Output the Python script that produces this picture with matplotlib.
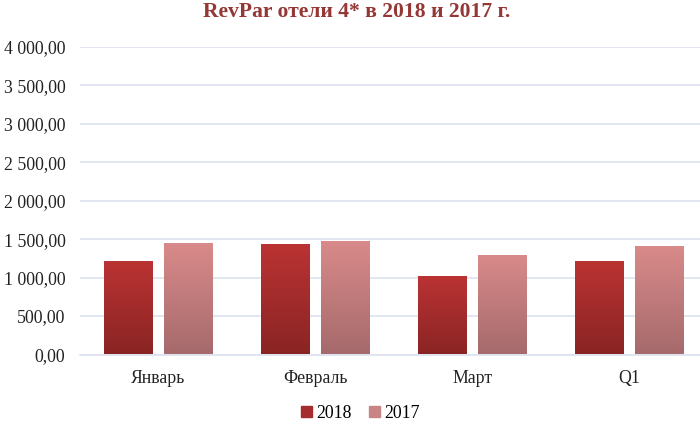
import numpy as np
import matplotlib
matplotlib.use('Agg')
import matplotlib.pyplot as plt
from matplotlib.colors import LinearSegmentedColormap
from matplotlib.ticker import FuncFormatter, MultipleLocator

# data
categories = ['Январь', 'Февраль', 'Март', 'Q1']
revpar_2018 = [1205, 1418, 1008, 1198]
revpar_2017 = [1440, 1468, 1285, 1398]

plt.rcParams['font.family'] = ['Liberation Serif', 'DejaVu Serif']

fig = plt.figure(figsize=(7, 4.28), dpi=100)
ax = fig.add_axes([80 / 700, 73.5 / 428, 620 / 700, 307.5 / 428])

x = np.arange(len(categories))
w = 0.306
off = 0.191

cmap18 = LinearSegmentedColormap.from_list('c18', ['#8a2424', '#bb3333'])
cmap17 = LinearSegmentedColormap.from_list('c17', ['#a66a6c', '#d98a8a'])

b18 = ax.bar(x - off, revpar_2018, w, color='#a52d2d', label='2018', zorder=2)
b17 = ax.bar(x + off, revpar_2017, w, color='#c47c7c', label='2017', zorder=2)

# vertical gradient fill for each bar
grad = np.linspace(0, 1, 256).reshape(-1, 1)
for bars, cm in ((b18, cmap18), (b17, cmap17)):
    for bar in bars:
        bx, by = bar.get_x(), bar.get_y()
        bw, bh = bar.get_width(), bar.get_height()
        bar.set_facecolor('none')
        bar.set_edgecolor('none')
        ax.imshow(grad, extent=[bx, bx + bw, by, by + bh], origin='lower',
                  cmap=cm, aspect='auto', zorder=2)

ax.set_xlim(-0.5, 3.45)
ax.set_ylim(0, 4000)
ax.yaxis.set_major_locator(MultipleLocator(500))


def fmt(v, pos):
    s = '{:,.2f}'.format(v)
    return s.replace(',', ' ').replace('.', ',')


ax.yaxis.set_major_formatter(FuncFormatter(fmt))
ax.set_xticks(x)
ax.set_xticklabels(categories)
ax.tick_params(axis='both', length=0, labelsize=12.8, colors='#222222')
ax.tick_params(axis='x', pad=11)
ax.tick_params(axis='y', pad=10.5)
ax.grid(axis='y', color='#dce2ee', linewidth=1.2, zorder=0)
ax.set_axisbelow(True)
for side in ['top', 'right', 'left']:
    ax.spines[side].set_visible(False)
ax.spines['bottom'].set_color('#dce2ee')
ax.spines['bottom'].set_linewidth(1.2)

fig.text(0.51, 0.972, 'RevPar отели 4* в 2018 и 2017 г.', ha='center', va='center',
         fontsize=15.6, fontweight='bold', color='#953735')

h1 = plt.Rectangle((0, 0), 1, 1, color='#a52d2d')
h2 = plt.Rectangle((0, 0), 1, 1, color='#c88585')
fig.legend([h1, h2], ['2018', '2017'], loc='center', bbox_to_anchor=(0.515, 0.035),
           ncol=2, frameon=False, fontsize=12.8, handlelength=0.6, handleheight=0.6,
           handletextpad=0.25, columnspacing=1.0)

fig.savefig('out.png', dpi=100)
